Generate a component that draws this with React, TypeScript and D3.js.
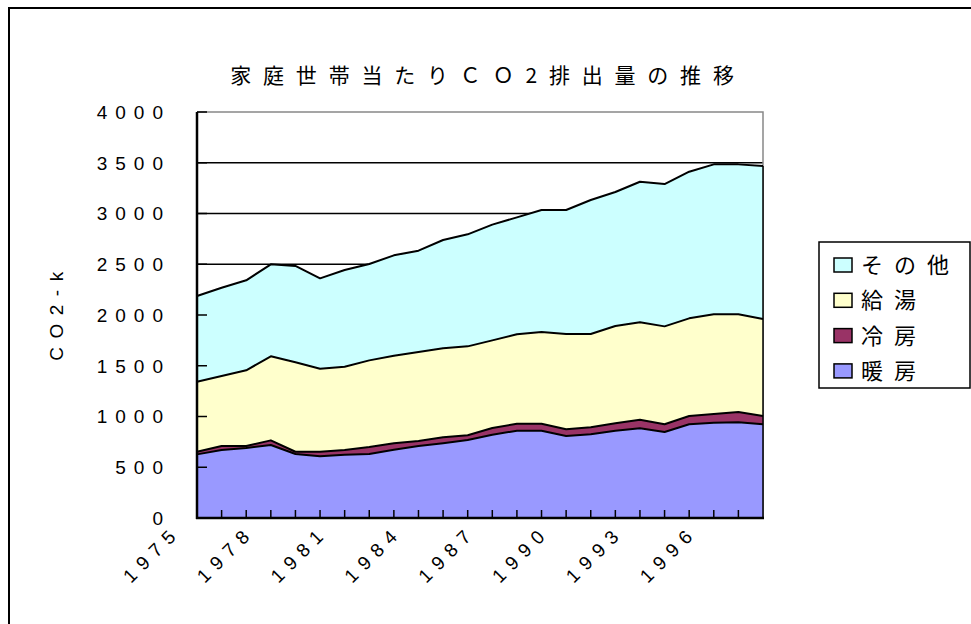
import { useEffect, useRef } from "react"
import * as d3 from "d3"

// 年度
const years = [
  1975, 1976, 1977, 1978, 1979, 1980, 1981, 1982, 1983, 1984, 1985, 1986,
  1987, 1988, 1989, 1990, 1991, 1992, 1993, 1994, 1995, 1996, 1997, 1998,
]
const heating = [627, 670, 690, 719, 631, 608, 624, 631, 673, 709, 736, 768, 821, 860, 860, 808, 824, 860, 884, 847, 923, 939, 943, 923]
const cooling = [26, 39, 19, 46, 22, 45, 46, 68, 63, 50, 59, 47, 66, 69, 69, 66, 70, 73, 85, 76, 82, 86, 101, 82]
const hotWater = [690, 690, 746, 828, 881, 818, 821, 854, 863, 876, 877, 876, 863, 881, 903, 939, 919, 959, 959, 965, 962, 982, 963, 955]
const other = [844, 870, 887, 906, 949, 890, 952, 949, 989, 999, 1067, 1104, 1140, 1152, 1202, 1221, 1320, 1320, 1385, 1402, 1445, 1477, 1477, 1508]

const seriesKeys = ["暖房", "冷房", "給湯", "その他"]
const seriesColors = ["#9999ff", "#993366", "#ffffcc", "#ccffff"]
const yTicks = [0, 500, 1000, 1500, 2000, 2500, 3000, 3500, 4000]
const xLabelYears = [1975, 1978, 1981, 1984, 1987, 1990, 1993, 1996]

const title = "家庭世帯当たりＣＯ2排出量の推移"
const yTitle = "CO2-k"

const W = 971
const H = 624
const latin = "Arial, 'Liberation Sans', sans-serif"
const cjk = "'Noto Sans CJK JP', 'Noto Sans', sans-serif"

function Chart() {
  const svgRef = useRef<SVGSVGElement>(null)

  useEffect(() => {
    if (!svgRef.current) return
    const svg = d3.select(svgRef.current)
    svg.selectAll("*").remove()

    const plot = { left: 197, right: 763, top: 112, bottom: 518 }

    // 外枠
    svg.append("rect").attr("width", W).attr("height", H).attr("fill", "#fff")
    svg.append("rect")
      .attr("x", 9).attr("y", 8).attr("width", W + 20).attr("height", H + 20)
      .attr("fill", "none").attr("stroke", "#000").attr("stroke-width", 2)

    const rows = years.map((y, i) => ({
      year: y,
      暖房: heating[i],
      冷房: cooling[i],
      給湯: hotWater[i],
      その他: other[i],
    }))

    const x = d3.scalePoint<number>().domain(years).range([plot.left, plot.right])
    const y = d3.scaleLinear().domain([0, 4000]).range([plot.bottom, plot.top])

    // 目盛線
    svg.append("g")
      .selectAll("line")
      .data(yTicks.filter((t) => t > 0 && t < 4000))
      .join("line")
      .attr("x1", plot.left).attr("x2", plot.right)
      .attr("y1", (d) => y(d)).attr("y2", (d) => y(d))
      .attr("stroke", "#000").attr("stroke-width", 1.5)

    // 枠（上・右）
    svg.append("path")
      .attr("d", `M${plot.left},${y(4000)}H${plot.right}V${plot.bottom}`)
      .attr("fill", "none").attr("stroke", "#888").attr("stroke-width", 1.5)

    const stack = d3.stack<any>().keys(seriesKeys)
    const layers = stack(rows)

    const area = d3.area<any>()
      .x((d) => x(d.data.year)!)
      .y0((d) => y(d[0]))
      .y1((d) => y(d[1]))

    const line = d3.line<any>()
      .x((d) => x(d.data.year)!)
      .y((d) => y(d[1]))

    svg.append("g")
      .selectAll("path")
      .data(layers)
      .join("path")
      .attr("d", area)
      .attr("fill", (_, i) => seriesColors[i])

    svg.append("g")
      .selectAll("path")
      .data(layers)
      .join("path")
      .attr("d", line)
      .attr("fill", "none")
      .attr("stroke", "#000")
      .attr("stroke-width", 2)
      .attr("stroke-linejoin", "round")

    // 右端
    svg.append("line")
      .attr("x1", plot.right).attr("x2", plot.right)
      .attr("y1", y(layers[3][years.length - 1][1])).attr("y2", plot.bottom)
      .attr("stroke", "#000").attr("stroke-width", 1.5)

    // 軸
    svg.append("line")
      .attr("x1", plot.left).attr("x2", plot.left)
      .attr("y1", plot.top).attr("y2", plot.bottom + 1)
      .attr("stroke", "#000").attr("stroke-width", 2.5)
    svg.append("line")
      .attr("x1", plot.left - 1).attr("x2", plot.right + 1)
      .attr("y1", plot.bottom).attr("y2", plot.bottom)
      .attr("stroke", "#000").attr("stroke-width", 2.5)

    // 目盛
    svg.append("g")
      .selectAll("line")
      .data(yTicks)
      .join("line")
      .attr("x1", plot.left).attr("x2", plot.left + 10)
      .attr("y1", (d) => y(d)).attr("y2", (d) => y(d))
      .attr("stroke", "#000").attr("stroke-width", 1.5)

    svg.append("g")
      .selectAll("line")
      .data(years.slice(1, -1))
      .join("line")
      .attr("x1", (d) => x(d)!).attr("x2", (d) => x(d)!)
      .attr("y1", plot.bottom).attr("y2", plot.bottom - 8)
      .attr("stroke", "#000").attr("stroke-width", 1.5)

    // Y目盛ラベル
    svg.append("g")
      .selectAll("text")
      .data(yTicks)
      .join("text")
      .attr("x", 171)
      .attr("y", (d) => y(d))
      .attr("dy", "0.36em")
      .attr("text-anchor", "end")
      .style("font-family", latin)
      .style("font-size", "19px")
      .style("letter-spacing", "8px")
      .text((d) => d)

    // X目盛ラベル
    svg.append("g")
      .selectAll("text")
      .data(xLabelYears)
      .join("text")
      .attr("transform", (d) => `translate(${x(d)! - 15},${533}) rotate(-45)`)
      .attr("text-anchor", "end")
      .style("font-family", latin)
      .style("font-size", "19px")
      .style("letter-spacing", "7.5px")
      .text((d) => d)

    // タイトル
    svg.append("text")
      .attr("x", 488).attr("y", 83)
      .attr("text-anchor", "middle")
      .style("font-family", cjk)
      .style("font-size", "21px")
      .style("letter-spacing", "11.8px")
      .text(title)

    svg.append("text")
      .attr("transform", `translate(63,${312}) rotate(-90)`)
      .attr("text-anchor", "middle")
      .style("font-family", latin)
      .style("font-size", "19px")
      .style("letter-spacing", "8.5px")
      .text(yTitle)

    // 凡例
    const legend = svg.append("g")
    legend.append("rect")
      .attr("x", 819).attr("y", 242).attr("width", 151).attr("height", 146)
      .attr("fill", "#fff").attr("stroke", "#000").attr("stroke-width", 1.5)
    const items = seriesKeys.map((k, i) => ({ k, c: seriesColors[i] })).reverse()
    const li = legend.selectAll("g.item").data(items).join("g")
      .attr("class", "item")
      .attr("transform", (_, i) => `translate(0,${265 + i * 35.3})`)
    li.append("rect")
      .attr("x", 834).attr("y", -7).attr("width", 18).attr("height", 14)
      .attr("fill", (d) => d.c).attr("stroke", "#000").attr("stroke-width", 1.5)
    li.append("text")
      .attr("x", 861).attr("y", 0).attr("dy", "0.36em")
      .style("font-family", cjk)
      .style("font-size", "22px")
      .style("letter-spacing", "11px")
      .text((d) => d.k)
  }, [])

  return <svg ref={svgRef} width={W} height={H} style={{ position: "absolute", left: 0, top: 0 }} />
}

export default function App() {
  return <Chart />
}
